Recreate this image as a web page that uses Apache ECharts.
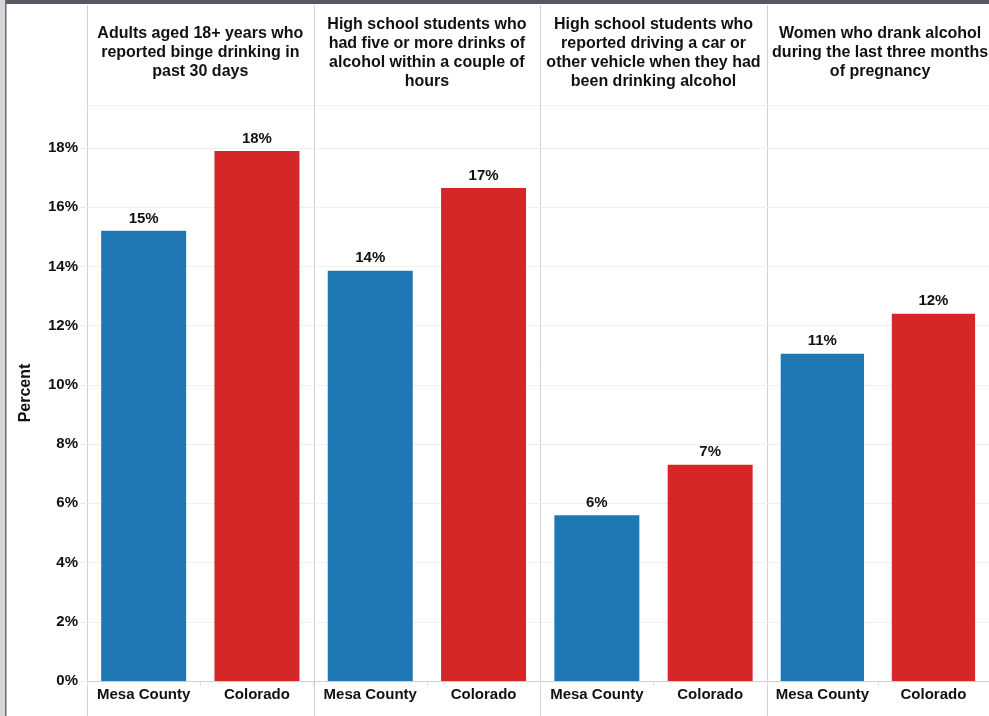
<!DOCTYPE html>
<html>
<head>
<meta charset="utf-8">
<script src="https://cdn.jsdelivr.net/npm/echarts@6/dist/echarts.min.js"></script>
<style>html,body{margin:0;padding:0;background:#fff;}#c{width:989px;height:716px;}</style>
</head>
<body>
<div id="c"></div>
<script>
const panelTitles = [
  "Adults aged 18+ years who\nreported binge drinking in\npast 30 days",
  "High school students who\nhad five or more drinks of\nalcohol within a couple of\nhours",
  "High school students who\nreported driving a car or\nother vehicle when they had\nbeen drinking alcohol",
  "Women who drank alcohol\nduring the last three months\nof pregnancy"
];
const categories = ["Mesa County", "Colorado"];
const mesaValues = [15.2, 13.85, 5.6, 11.05];
const coloradoValues = [17.9, 16.65, 7.3, 12.4];
const yTicks = [0, 2, 4, 6, 8, 10, 12, 14, 16, 18];

const FONT = "'Liberation Sans', Arial, sans-serif";
const chart = echarts.init(document.getElementById('c'));
const panelLeft = 87, panelW = 226.6, plotTop = 105, plotBottom = 35;
const grids = [], xAxes = [], yAxes = [], series = [], graphics = [];

panelTitles.forEach((t, i) => {
  grids.push({left: panelLeft + panelW * i, width: panelW, top: plotTop, bottom: plotBottom, containLabel: false});
  xAxes.push({
    type: 'category', gridIndex: i, data: categories,
    axisLine: {lineStyle: {color: '#d0d0d0', width: 1}},
    axisTick: {show: true, length: 5, lineStyle: {color: '#e0e0e0'}},
    axisLabel: {interval: 0, hideOverlap: false, color: '#111', fontFamily: FONT, fontWeight: 'bold', fontSize: 15, margin: 6}
  });
  yAxes.push({
    type: 'value', gridIndex: i, min: 0, max: 19.45, interval: 2,
    name: i === 0 ? 'Percent' : '', nameLocation: 'middle', nameGap: 53, nameRotate: 90,
    nameTextStyle: {color: '#111', fontFamily: FONT, fontWeight: 'bold', fontSize: 16},
    axisLine: {show: false},
    axisTick: {show: i === 0, length: 7, lineStyle: {color: '#ececec'}},
    axisLabel: {show: i === 0, showMaxLabel: false, color: '#111', fontFamily: FONT, fontWeight: 'bold', fontSize: 15, margin: 9,
      formatter: v => yTicks.includes(v) ? v + '%' : ''},
    splitLine: {show: true, lineStyle: {color: '#efefef', width: 1}}
  });
  series.push({
    type: 'bar', xAxisIndex: i, yAxisIndex: i, barWidth: '75%',
    data: [
      {value: mesaValues[i], itemStyle: {color: '#1f77b4'}},
      {value: coloradoValues[i], itemStyle: {color: '#d62728'}}
    ],
    label: {show: true, position: 'top', distance: 5, color: '#111', fontFamily: FONT, fontWeight: 'bold', fontSize: 15,
      formatter: p => Math.round(p.value) + '%'}
  });
  graphics.push({
    type: 'text', x: panelLeft + panelW * i + panelW / 2, y: 53,
    style: {text: t, fill: '#111', font: "bold 16px " + FONT, textAlign: 'center', textVerticalAlign: 'middle', lineHeight: 19}
  });
  graphics.push({
    type: 'line', shape: {x1: Math.round(panelLeft + panelW * i) + 0.5, y1: 5, x2: Math.round(panelLeft + panelW * i) + 0.5, y2: 716},
    style: {stroke: '#d0d0d0', lineWidth: 1}
  });
});
graphics.push({type: 'line', shape: {x1: panelLeft, y1: plotTop + 0.5, x2: 989, y2: plotTop + 0.5}, style: {stroke: '#d0d0d0', lineWidth: 1}});
graphics.push({type: 'rect', shape: {x: 0, y: 0, width: 989, height: 4}, style: {fill: '#55595f'}});
graphics.push({type: 'rect', shape: {x: 0, y: 0, width: 5, height: 716}, style: {fill: '#d6d6d6'}});
graphics.push({type: 'rect', shape: {x: 5, y: 0, width: 1.5, height: 716}, style: {fill: '#6a6e74'}});

chart.setOption({
  animation: false,
  backgroundColor: '#fff',
  grid: grids, xAxis: xAxes, yAxis: yAxes, series: series,
  graphic: graphics
});
</script>
</body>
</html>
